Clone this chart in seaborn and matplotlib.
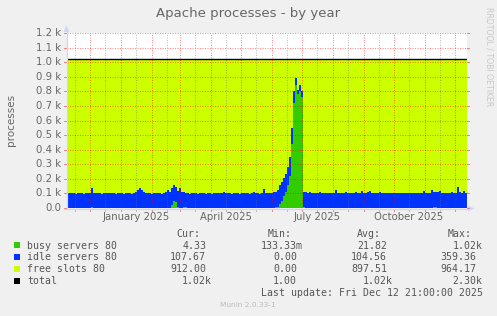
import numpy as np
import pandas as pd
import matplotlib
matplotlib.use("Agg")
import matplotlib.pyplot as plt
import matplotlib.dates as mdates
import matplotlib.transforms as mtransforms
from matplotlib.lines import Line2D
from matplotlib.patches import Polygon, Rectangle
import seaborn as sns

# ---------------- data ----------------
start = pd.Timestamp("2024-11-07 21:00")
end = pd.Timestamp("2025-12-12 21:00")
step_days = 2  # each value is a 2-day average

busy = [
    0, 3, 2, 1, 0, 0, 1, 0, 0, 0,
    0, 2, 8, 1, 0, 0, 0, 0, 0, 0,
    0, 0, 0, 0, 0, 0, 0, 0, 0, 0,
    0, 0, 0, 0, 1, 2, 2, 1, 0, 0,
    0, 0, 0, 0, 0, 0, 0, 0, 0, 0,
    0, 1, 20, 45, 40, 10, 3, 0, 4, 5,
    2, 0, 0, 0, 0, 0, 0, 0, 0, 0,
    0, 0, 0, 0, 0, 1, 0, 0, 0, 0,
    0, 0, 0, 0, 0, 0, 0, 0, 0, 0,
    0, 0, 0, 1, 0, 0, 0, 0, 1, 0,
    0, 1, 2, 3, 5, 10, 30, 50, 80, 110,
    160, 220, 440, 720, 840, 780, 800, 760, 5, 3,
    1, 0, 0, 0, 0, 0, 0, 0, 0, 0,
    0, 0, 0, 0, 0, 0, 0, 0, 0, 0,
    0, 0, 0, 0, 0, 0, 0, 0, 0, 0,
    0, 0, 0, 0, 0, 0, 0, 0, 0, 0,
    0, 0, 0, 0, 0, 0, 0, 0, 0, 0,
    0, 0, 0, 0, 0, 0, 0, 0, 1, 0,
    0, 0, 2, 8, 6, 1, 0, 0, 0, 0,
    0, 0, 0, 0, 0, 1, 0, 0, 0, 0,
]
idle = [
    102, 100, 104, 101, 99, 103, 100, 102, 98, 101,
    100, 104, 128, 103, 100, 102, 101, 99, 103, 100,
    101, 102, 100, 104, 99, 101, 103, 100, 98, 102,
    100, 101, 99, 103, 112, 120, 135, 125, 108, 103,
    100, 102, 98, 101, 103, 100, 104, 99, 101, 112,
    123, 110, 120, 113, 105, 108, 132, 112, 104, 100,
    101, 99, 103, 100, 102, 98, 101, 104, 100, 99,
    102, 100, 98, 103, 101, 99, 102, 100, 112, 103,
    100, 101, 99, 104, 100, 102, 98, 101, 103, 100,
    101, 99, 102, 108, 100, 103, 99, 101, 128, 104,
    101, 104, 100, 106, 102, 112, 128, 130, 125, 120,
    120, 130, 110, 80, 50, 30, 40, 45, 105, 106,
    104, 108, 103, 106, 102, 105, 107, 103, 105, 104,
    106, 103, 105, 104, 120, 102, 106, 104, 103, 107,
    104, 106, 103, 105, 107, 104, 102, 118, 105, 106,
    110, 116, 104, 106, 103, 105, 107, 104, 106, 103,
    105, 102, 104, 106, 103, 101, 104, 102, 105, 103,
    104, 102, 105, 103, 106, 104, 102, 103, 115, 105,
    104, 106, 118, 105, 103, 107, 114, 104, 106, 103,
    105, 104, 107, 103, 106, 140, 108, 104, 118, 106,
]
total_slots = 1020  # ServerLimit: busy + idle + free

y_ticks = [0, 100, 200, 300, 400, 500, 600, 700, 800, 900, 1000, 1100, 1200]
y_tick_labels = ["0.0", "0.1 k", "0.2 k", "0.3 k", "0.4 k", "0.5 k", "0.6 k",
                 "0.7 k", "0.8 k", "0.9 k", "1.0 k", "1.1 k", "1.2 k"]
x_label_dates = ["2025-01-16", "2025-04-16", "2025-07-16", "2025-10-16"]
x_labels = ["January 2025", "April 2025", "July 2025", "October 2025"]

series_names = ["busy servers 80", "idle servers 80", "free slots 80", "total"]
series_colors = ["#33CC00", "#0033FF", "#CCFF00", "#000000"]
cur_vals = ["4.33", "107.67", "912.00", "1.02k"]
min_vals = ["133.33m", "0.00", "0.00", "1.00"]
avg_vals = ["21.82", "104.56", "897.51", "1.02k"]
max_vals = ["1.02k", "359.36", "964.17", "2.30k"]

title = "Apache processes - by year"
ylabel = "processes"
last_update = "Last update: Fri Dec 12 21:00:00 2025"
version = "Munin 2.0.33-1"
watermark = "RRDTOOL / TOBI OETIKER"

# ---------------- figure ----------------
sns.set_theme(style="white")
plt.rcParams['font.family'] = ['DejaVu Sans']

W, H = 497, 316
fig = plt.figure(figsize=(W / 100, H / 100), dpi=100, facecolor="#F0F0F0")
px = mtransforms.Affine2D().scale(1 / W, -1 / H).translate(0, 1) + fig.transFigure

L, R, T, B = 67, 467, 33, 208
ax = fig.add_axes([L / W, 1 - B / H, (R - L) / W, (B - T) / H])
ax.set_facecolor("white")

n = len(idle)
times = [start + pd.Timedelta(days=step_days * i) for i in range(n)] + [end]
df = pd.DataFrame({
    "time": times,
    "busy": busy + [busy[-1]],
    "idle": idle + [idle[-1]],
})
df["free"] = total_slots - df["busy"] - df["idle"]
df["s1"] = df["busy"]
df["s2"] = df["busy"] + df["idle"]
df["s3"] = df["s2"] + df["free"]

ax.fill_between(df["time"], 0, df["s1"], step="post", color=series_colors[0], lw=0, zorder=1)
ax.fill_between(df["time"], df["s1"], df["s2"], step="post", color=series_colors[1], lw=0, zorder=1)
ax.fill_between(df["time"], df["s2"], df["s3"], step="post", color=series_colors[2], lw=0, zorder=1)
sns.lineplot(data=df, x="time", y="s3", drawstyle="steps-post", color="black",
             lw=1.0, ax=ax, zorder=4)

ax.set_xlim(mdates.date2num(start), mdates.date2num(end))
ax.set_ylim(0, 1200)
ax.set_xlabel("")
ax.set_ylabel("")
ax.set_xticks([])
ax.set_yticks([])
for s in ax.spines.values():
    s.set_visible(False)

mgrid = (1.0, 0.0, 0.0, 0.45)
mingrid = (0.45, 0.45, 0.45, 0.45)
dot = dict(lw=0.75, dashes=(1, 1.4), zorder=3)

month_starts = pd.date_range("2024-12-01", "2025-12-01", freq="MS")
mid_months = pd.date_range("2024-11-01", "2025-11-01", freq="MS") + pd.Timedelta(days=15)

for d in mid_months:
    ax.axvline(d, color=mingrid, **dot)
for d in month_starts:
    ax.axvline(d, color=mgrid, **dot)
for v in y_ticks[1:]:
    ax.axhline(v, color=mgrid, **dot)

# tick marks outside the canvas
bx = mtransforms.blended_transform_factory(ax.transData, px)
for d in month_starts:
    fig.add_artist(Line2D([mdates.date2num(d)] * 2, [208.5, 211], transform=bx,
                          color=(1, 0, 0, 0.5), lw=0.75))
for d in mid_months:
    fig.add_artist(Line2D([mdates.date2num(d)] * 2, [208.5, 211], transform=bx,
                          color=(0.5, 0.5, 0.5, 0.5), lw=0.75))
for v in y_ticks:
    yy = B - v * (B - T) / 1200
    fig.add_artist(Line2D([467, 469], [yy, yy], transform=px, color=(1, 0, 0, 0.5), lw=0.75))
    fig.add_artist(Line2D([63.5, 66], [yy, yy], transform=px, color=(1, 0, 0, 0.5), lw=0.75))

# axes with arrows
axis_c = "#CFD6F8"
fig.add_artist(Line2D([66.5, 66.5], [209, 30], transform=px, color=axis_c, lw=0.9))
fig.add_artist(Line2D([64, 470], [208.5, 208.5], transform=px, color=axis_c, lw=0.9))
fig.add_artist(Polygon([[63.5, 32], [69.5, 32], [66.5, 25.5]], closed=True, transform=px,
                       facecolor=axis_c, edgecolor="none"))
fig.add_artist(Polygon([[468, 205.5], [468, 211.5], [474.5, 208.5]], closed=True, transform=px,
                       facecolor=axis_c, edgecolor="none"))

font_c = "#666666"
# tick labels
for v, lab in zip(y_ticks, y_tick_labels):
    yy = B - v * (B - T) / 1200
    fig.text(61, yy, lab, transform=px, ha="right", va="center", fontsize=7.3, color=font_c)
for d, lab in zip(x_label_dates, x_labels):
    fig.text(mdates.date2num(pd.Timestamp(d)), 216.5, lab, transform=bx, ha="center",
             va="center", fontsize=7.3, color=font_c)

fig.text(248.5, 14, title, transform=px, ha="center", va="center", fontsize=9.5, color=font_c)
fig.text(11, 120, ylabel, transform=px, ha="center", va="center", rotation=90,
         fontsize=7.5, color=font_c)
fig.text(488.5, 57, watermark, transform=px, ha="center", va="center", rotation=270,
         fontsize=5.6, color="#C8C8C8")
fig.text(248, 305, version, transform=px, ha="center", va="center", fontsize=5.3, color="#BBBBBB")

# legend
mono = dict(family="DejaVu Sans Mono", fontsize=7.1, color="#555555")
cw = 5.93
headers = [("Cur:", 176.7), ("Min:", 267.3), ("Avg:", 357.3), ("Max:", 447.3)]
for h, x in headers:
    fig.text(x, 234, h, transform=px, ha="left", va="center", **mono)

col_edges = [212, 303, 393, 482.7]
row_y = [245.6, 257.4, 269.3, 281.1]
for r, name in enumerate(series_names):
    y = row_y[r]
    fig.add_artist(Rectangle((14, y - 3.2), 6, 6, transform=px, facecolor=series_colors[r],
                             edgecolor="none"))
    fig.text(27, y, name, transform=px, ha="left", va="center", **mono)
    for vals, edge in zip([cur_vals, min_vals, avg_vals, max_vals], col_edges):
        s = vals[r]
        e = edge if s[-1].isalpha() else edge - cw
        fig.text(e, y, s, transform=px, ha="right", va="center", **mono)

fig.text(482.7, 292.9, last_update, transform=px, ha="right", va="center", **mono)

fig.savefig("out.png", dpi=100, facecolor=fig.get_facecolor())
